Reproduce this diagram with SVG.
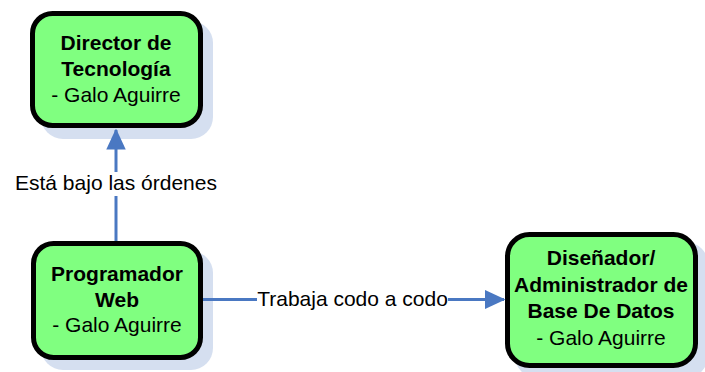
<svg xmlns="http://www.w3.org/2000/svg" width="705" height="372" viewBox="0 0 705 372">
<style>
.shadow{fill:#d5dff0}
.box{fill:#80ff80;stroke:#000;stroke-width:5}
.t{font-family:"Liberation Sans",Arial,sans-serif;font-size:21px;fill:#000;text-anchor:middle}
.b{font-weight:bold}
.conn{stroke:#4a78c2;stroke-width:3;fill:none}
.lbl{font-family:"Liberation Sans",Arial,sans-serif;font-size:21px;fill:#000;text-anchor:middle}
</style>
<defs>
<marker id="arr" markerWidth="7" markerHeight="6.5" refX="6.5" refY="3.25" orient="auto" markerUnits="strokeWidth">
<path d="M0,0 L7,3.25 L0,6.5 Z" fill="#4a78c2"/>
</marker>
</defs>
<rect width="705" height="372" fill="#fff"/>
<g id="node-director">
<rect class="shadow" x="41" y="21" width="172" height="118" rx="22"/>
<rect class="box" x="32.5" y="13.5" width="168" height="112" rx="20"/>
<text class="t b" x="116" y="50">Director de</text>
<text class="t b" x="116" y="76">Tecnología</text>
<text class="t" x="116" y="102">- Galo Aguirre</text>
</g>
<g id="node-programador">
<rect class="shadow" x="41" y="251" width="172" height="119" rx="22"/>
<rect class="box" x="33.5" y="243.5" width="167" height="114" rx="20"/>
<text class="t b" x="117" y="281">Programador</text>
<text class="t b" x="117" y="307">Web</text>
<text class="t" x="117" y="332">- Galo Aguirre</text>
</g>
<g id="node-disenador">
<rect class="shadow" x="515" y="242" width="193" height="136" rx="22"/>
<rect class="box" x="507.5" y="234.5" width="188" height="131" rx="22"/>
<text class="t b" x="601" y="265">Diseñador/</text>
<text class="t b" x="601" y="292">Administrador de</text>
<text class="t b" x="601" y="318">Base De Datos</text>
<text class="t" x="601" y="345">- Galo Aguirre</text>
</g>
<g id="connectors">
<line class="conn" x1="116" y1="241" x2="116" y2="130" marker-end="url(#arr)"/>
<rect x="13" y="172" width="206" height="24" fill="#fff"/>
<text class="lbl" x="116" y="190">Está bajo las órdenes</text>
<line class="conn" x1="203" y1="299.5" x2="504" y2="299.5" marker-end="url(#arr)"/>
<rect x="257" y="287" width="191" height="24" fill="#fff"/>
<text class="lbl" x="352.5" y="306">Trabaja codo a codo</text>
</g>
</svg>
